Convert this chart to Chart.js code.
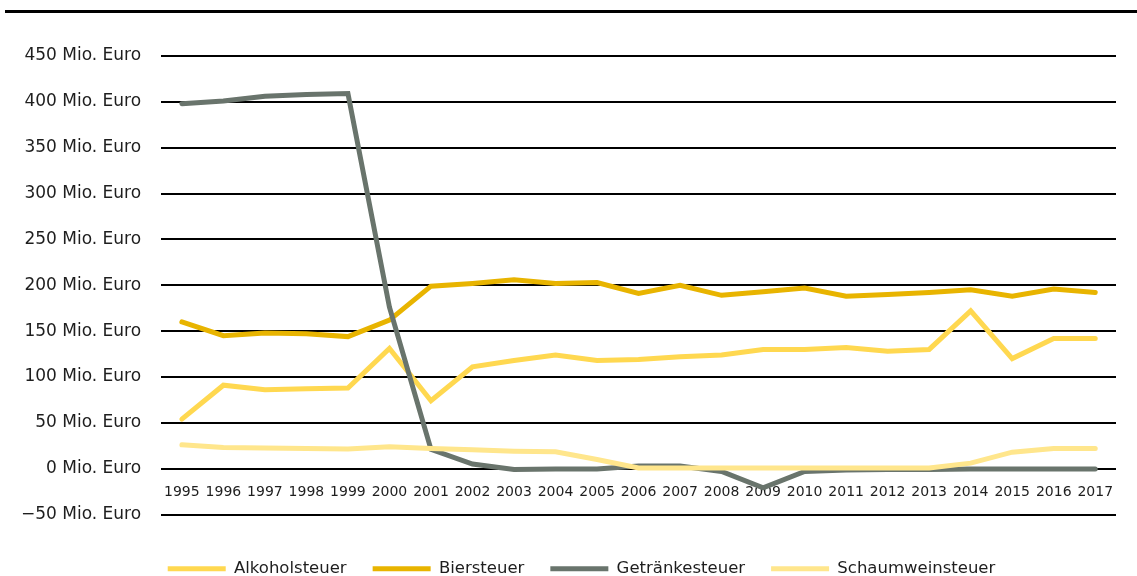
<!DOCTYPE html>
<html>
<head>
<meta charset="utf-8">
<script src="https://cdn.jsdelivr.net/npm/chart.js@4"></script>
<style>
  html, body { margin: 0; padding: 0; background: #fff; }
  #wrap { width: 1137px; height: 576px; position: relative; }
</style>
</head>
<body>
<div id="wrap"><canvas id="chart"></canvas></div>
<script>
var years = ["1995","1996","1997","1998","1999","2000","2001","2002","2003","2004","2005","2006","2007","2008","2009","2010","2011","2012","2013","2014","2015","2016","2017"];
var alkoholsteuer = [54, 91, 86, 87, 88, 131, 74, 111, 118, 124, 118, 119, 122, 124, 130, 130, 132, 128, 130, 172, 120, 142, 142];
var biersteuer = [160, 145, 148, 147, 144, 162, 199, 202, 206, 202, 203, 191, 200, 189, 193, 197, 188, 190, 192, 195, 188, 196, 192];
var getraenkesteuer = [398, 401, 406, 408, 409, 176, 21, 5, -1, -0.5, -0.3, 3, 3, -3, -21, -3, -1.5, -1, -1, -0.5, -0.5, -0.5, -0.5];
var schaumweinsteuer = [26, 23, 22.5, 22, 21.5, 24, 22, 20.5, 19, 18.5, 10, 0.7, 0.7, 0.7, 0.7, 0.7, 0.7, 0.7, 0.7, 6, 18, 22, 22];
var seriesNames = ["Alkoholsteuer", "Biersteuer", "Getränkesteuer", "Schaumweinsteuer"];
var yTicks = [-50, 0, 50, 100, 150, 200, 250, 300, 350, 400, 450];
var unit = " Mio. Euro";

var colors = ["#ffd850", "#e8b400", "#69746c", "#ffe68c"];
var font = "'DejaVu Sans', sans-serif";

function ds(i, values, order) {
    return {
        label: seriesNames[i],
        data: values,
        borderColor: colors[i],
        backgroundColor: colors[i],
        borderWidth: 5,
        borderCapStyle: "round",
        pointRadius: 0,
        tension: 0,
        order: order
    };
}

// thick rule across the top, and nudge the legend down/right
var extras = {
    id: "extras",
    afterLayout: function(chart) {
        var lg = chart.legend;
        lg.top += 20;
        lg.bottom += 20;
        lg.left += 23;
        lg.right += 23;
    },
    beforeDraw: function(chart) {
        var c = chart.ctx;
        c.save();
        c.fillStyle = "#000";
        c.fillRect(5, 10, chart.width - 5, 3);
        c.restore();
    }
};

new Chart(document.getElementById("chart"), {
    type: "line",
    data: {
        labels: years,
        datasets: [
            ds(0, alkoholsteuer, 4),
            ds(1, biersteuer, 3),
            ds(2, getraenkesteuer, 2),
            ds(3, schaumweinsteuer, 1)
        ]
    },
    options: {
        responsive: true,
        maintainAspectRatio: false,
        animation: false,
        layout: { padding: { top: 56, right: 21, left: 1, bottom: 9 } },
        scales: {
            x: {
                position: { y: 0 },
                offset: true,
                grid: { display: false },
                border: { display: false },
                ticks: {
                    color: "#1e1e1e",
                    font: { family: font, size: 14 },
                    padding: 7,
                    maxRotation: 0,
                    autoSkip: false
                }
            },
            y: {
                min: -50,
                max: 450,
                afterBuildTicks: function(axis) {
                    axis.ticks = yTicks.map(function(v) { return { value: v }; });
                },
                grid: { color: "#000", lineWidth: 2, drawTicks: false },
                border: { display: false },
                ticks: {
                    color: "#1e1e1e",
                    font: { family: font, size: 17 },
                    padding: 20,
                    callback: function(v) {
                        return (v < 0 ? "\u2212" + Math.abs(v) : v) + unit;
                    }
                }
            }
        },
        plugins: {
            legend: {
                position: "bottom",
                labels: {
                    usePointStyle: true,
                    pointStyle: "line",
                    pointStyleWidth: 58,
                    boxHeight: 5,
                    padding: 26,
                    color: "#1e1e1e",
                    font: { family: font, size: 16.5 },
                    sort: function(a, b) { return a.datasetIndex - b.datasetIndex; }
                }
            },
            tooltip: { enabled: false }
        }
    },
    plugins: [extras]
});
</script>
</body>
</html>
